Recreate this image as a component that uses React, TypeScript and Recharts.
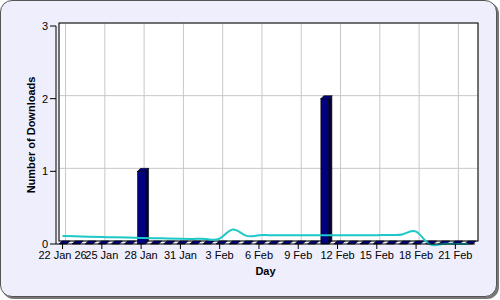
import React from "react";
import { ComposedChart, Bar, Line, XAxis, YAxis, CartesianGrid, ReferenceArea } from "recharts";

// one entry per day, 22 Jan -> 22 Feb
const days = [
  "22 Jan 26", "23 Jan", "24 Jan", "25 Jan", "26 Jan", "27 Jan", "28 Jan", "29 Jan",
  "30 Jan", "31 Jan", "1 Feb", "2 Feb", "3 Feb", "4 Feb", "5 Feb", "6 Feb",
  "7 Feb", "8 Feb", "9 Feb", "10 Feb", "11 Feb", "12 Feb", "13 Feb", "14 Feb",
  "15 Feb", "16 Feb", "17 Feb", "18 Feb", "19 Feb", "20 Feb", "21 Feb", "22 Feb",
];
const downloads = [
  0, 0, 0, 0, 0, 0, 1, 0, 0, 0, 0, 0, 0, 0, 0, 0,
  0, 0, 0, 0, 2, 0, 0, 0, 0, 0, 0, 0, 0, 0, 0, 0,
];
const trend = [
  0.11, 0.105, 0.1, 0.096, 0.092, 0.088, 0.084, 0.08, 0.076, 0.072, 0.07, 0.068, 0.075, 0.2, 0.115, 0.12,
  0.12, 0.12, 0.12, 0.12, 0.12, 0.12, 0.12, 0.12, 0.12, 0.125, 0.135, 0.17, 0, 0, 0, 0,
];
const yTicks = [0, 1, 2, 3];

const W = 500;
const H = 300;
const MARGIN = { top: 26, right: 25, bottom: 0, left: 0 };
const Y_AXIS_W = 56;
const X_AXIS_H = 56;
const DEPTH = 3;
const FONT = "'Liberation Sans', Arial, sans-serif";

// back wall of the 3d plot, shifted up-right by the depth
const wall = {
  x: MARGIN.left + Y_AXIS_W + DEPTH,
  y: MARGIN.top - DEPTH,
  width: W - MARGIN.left - MARGIN.right - Y_AXIS_W,
  height: H - MARGIN.top - MARGIN.bottom - X_AXIS_H,
};

const data = days.map((d, i) => ({ day: d, downloads: downloads[i], trend: trend[i] }));

const Bar3D = (props: any) => {
  const { x, y, width: w, height: h } = props;
  const d = DEPTH;
  return (
    <g>
      {h > 0 && (
        <>
          <rect x={x} y={y} width={w} height={h} fill="#000080" stroke="#000" strokeWidth={0.6} />
          <polygon
            points={`${x + w},${y} ${x + w + d},${y - d} ${x + w + d},${y + h - d} ${x + w},${y + h}`}
            fill="#000040"
            stroke="#000"
            strokeWidth={0.6}
          />
        </>
      )}
      <polygon
        points={`${x},${y} ${x + d},${y - d} ${x + w + d},${y - d} ${x + w},${y}`}
        fill="#000080"
        stroke="#000"
        strokeWidth={0.6}
      />
    </g>
  );
};

const WallBorder = (props: any) => {
  const { x, y, width, height } = props;
  return <rect x={x + DEPTH} y={y - DEPTH} width={width} height={height} fill="none" stroke="#000" strokeWidth={1} />;
};

const vLine = (props: any) => (
  <line key={props.key} x1={props.x1 + DEPTH} y1={props.y1} x2={props.x2 + DEPTH} y2={props.y2} stroke="#c8c8c8" strokeWidth={1} />
);
const hLine = (props: any) => (
  <line key={props.key} x1={props.x1} y1={props.y1 - DEPTH} x2={props.x2} y2={props.y2 - DEPTH} stroke="#c8c8c8" strokeWidth={1} />
);

export default function App() {
  return (
    <div style={{ position: "relative", width: W, height: H, fontFamily: FONT }}>
      <style>{"body{margin:0}"}</style>
      <div
        style={{
          position: "absolute",
          left: 0,
          top: 0,
          width: W - 3,
          height: H - 3,
          boxSizing: "border-box",
          background: "#eeeefd",
          border: "1px solid #555",
          borderRadius: 12,
          boxShadow: "2px 2px 0 #777",
        }}
      />
      <div style={{ position: "absolute", left: 0, top: 0 }}>
        <ComposedChart width={W} height={H} data={data} margin={MARGIN}>
          <CartesianGrid {...wall} fill="#fff" horizontal={hLine} vertical={vLine} />
          <ReferenceArea y1={0} y2={3} shape={<WallBorder />} ifOverflow="visible" />
          <XAxis
            dataKey="day"
            interval={2}
            height={X_AXIS_H}
            tickSize={5}
            tickMargin={2}
            tick={{ fill: "#000", fontSize: 11, fontFamily: FONT }}
            axisLine={{ stroke: "#000" }}
            tickLine={{ stroke: "#000" }}
            label={{ value: "Day", position: "insideTop", offset: 23, fill: "#000", fontSize: 11, fontWeight: "bold", fontFamily: FONT }}
          />
          <YAxis
            domain={[0, 3]}
            ticks={yTicks}
            width={Y_AXIS_W}
            tickSize={6}
            tickMargin={2}
            tick={{ fill: "#000", fontSize: 11, fontFamily: FONT }}
            axisLine={{ stroke: "#000" }}
            tickLine={{ stroke: "#000" }}
            label={{ value: "Number of Downloads", angle: -90, position: "center", dx: 3, fill: "#000", fontSize: 11, fontWeight: "bold", fontFamily: FONT }}
          />
          <Bar dataKey="downloads" barSize={8} shape={Bar3D} isAnimationActive={false} />
          <Line dataKey="trend" type="natural" stroke="#1ec8c8" strokeWidth={2} dot={false} isAnimationActive={false} />
        </ComposedChart>
      </div>
    </div>
  );
}
